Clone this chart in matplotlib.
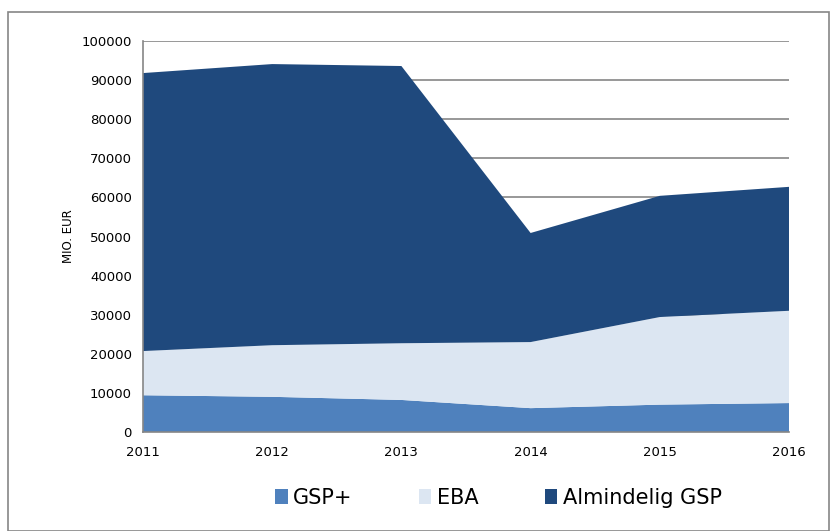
import matplotlib.pyplot as plt
from matplotlib.patches import Rectangle

years = [2011, 2012, 2013, 2014, 2015, 2016]
gsp_plus = [9400, 9000, 8200, 6100, 7000, 7400]
eba = [11300, 13200, 14500, 16900, 22400, 23600]
almindelig = [71100, 71900, 70900, 27900, 31000, 31700]
labels = ['GSP+', 'EBA', 'Almindelig GSP']
colors = ['#4F81BD', '#DCE6F2', '#1F497D']

fig = plt.figure(figsize=(8.3, 5.31), dpi=100)
ax = fig.add_axes([143 / 830, 1 - 432 / 531, (789 - 143) / 830, (432 - 41) / 531])

ax.stackplot(years, gsp_plus, eba, almindelig, colors=colors, labels=labels, zorder=2)

ax.set_xlim(2011, 2016)
ax.set_ylim(0, 100000)
ax.set_yticks(range(0, 100001, 10000))
ax.set_xticks(years)
ax.yaxis.grid(True, color='#868686', linewidth=1.2, zorder=0)
ax.set_axisbelow(True)
for s in ['top', 'right']:
    ax.spines[s].set_visible(False)
for s in ['left', 'bottom']:
    ax.spines[s].set_color('#868686')
    ax.spines[s].set_linewidth(1.2)
ax.tick_params(length=0, labelsize=9.5)
ax.tick_params(axis='y', pad=8)
ax.tick_params(axis='x', pad=10)
ax.set_ylabel('MIO. EUR', fontsize=8.5, labelpad=5)

ax.legend(loc='upper center', bbox_to_anchor=(0.55, -0.095), ncol=3, frameon=False,
          fontsize=15, handlelength=0.6, handleheight=0.7, handletextpad=0.25,
          columnspacing=3.2)

fig.patches.append(Rectangle((8 / 830, 0), 821 / 830, 1 - 12 / 531, transform=fig.transFigure,
                             fill=False, edgecolor='#868686', linewidth=1.2))

fig.savefig('out.png', dpi=100)
